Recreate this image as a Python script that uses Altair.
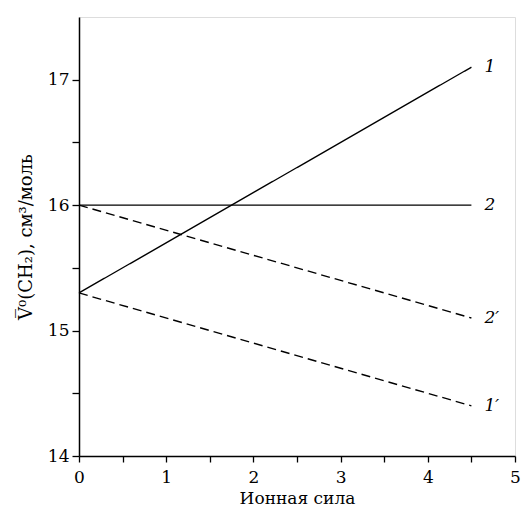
import altair as alt
import pandas as pd

series = ["1", "2", "2′", "1′"]
x_start = [0, 0, 0, 0]
x_end = [4.5, 4.5, 4.5, 4.5]
y_start = [15.3, 16.0, 16.0, 15.3]
y_end = [17.1, 16.0, 15.1, 14.4]
dashed = [False, False, True, True]

rows = []
for s, xa, xb, ya, yb, d in zip(series, x_start, x_end, y_start, y_end, dashed):
    rows.append({"s": s, "x": xa, "y": ya, "d": "dash" if d else "solid"})
    rows.append({"s": s, "x": xb, "y": yb, "d": "dash" if d else "solid"})
df = pd.DataFrame(rows)
lab = pd.DataFrame({"s": series, "x": x_end, "y": y_end})

FONT = "DejaVu Serif"
xs = alt.Scale(domain=[0, 5], nice=False)
ys = alt.Scale(domain=[14, 17.5], nice=False)

x_ticks = [0, 0.5, 1, 1.5, 2, 2.5, 3, 3.5, 4, 4.5, 5]
y_ticks = [14, 14.5, 15, 15.5, 16, 16.5, 17]

lines = alt.Chart(df).mark_line(color="black", strokeWidth=1.4).encode(
    x=alt.X("x:Q", scale=xs, axis=alt.Axis(
        values=x_ticks, title="Ионная сила",
        labelExpr="datum.value % 1 == 0 ? format(datum.value, 'd') : ''",
        grid=False, tickSize=6, tickColor="black", domainColor="black",
        domainWidth=1.5, tickWidth=1.3, labelFont=FONT, labelFontSize=17,
        labelColor="black", titleFont=FONT, titleFontSize=17,
        titleFontWeight="normal", titleColor="black", labelPadding=7,
        titlePadding=5, labelFlush=False)),
    y=alt.Y("y:Q", scale=ys, axis=alt.Axis(
        values=y_ticks, title="V\u0305⁰(CH₂), см³/моль",
        labelExpr="datum.value % 1 == 0 ? format(datum.value, 'd') : ''",
        grid=False, tickSize=7, tickColor="black", domainColor="black",
        domainWidth=1.5, tickWidth=1.3, labelFont=FONT, labelFontSize=17,
        labelColor="black", titleFont=FONT, titleFontSize=18,
        titleFontWeight="normal", titleColor="black", labelPadding=3,
        titlePadding=12, labelFlush=False)),
    detail="s:N",
    strokeDash=alt.StrokeDash("d:N", scale=alt.Scale(domain=["solid", "dash"], range=[[1, 0], [9, 5]]), legend=None),
)

labels = alt.Chart(lab).mark_text(
    align="left", baseline="middle", dx=13, font=FONT, fontSize=17,
    fontStyle="italic", color="black"
).encode(x=alt.X("x:Q", scale=xs), y=alt.Y("y:Q", scale=ys), text="s:N")

chart = (lines + labels).properties(
    width=436, height=439,
    autosize=alt.AutoSizeParams(type="none"),
    padding={"left": 71, "top": 9, "right": 6, "bottom": 56},
).configure_view(stroke=None).configure(background="white", font=FONT)

chart.save("out.html", embed_options={"renderer": "svg", "actions": False})
